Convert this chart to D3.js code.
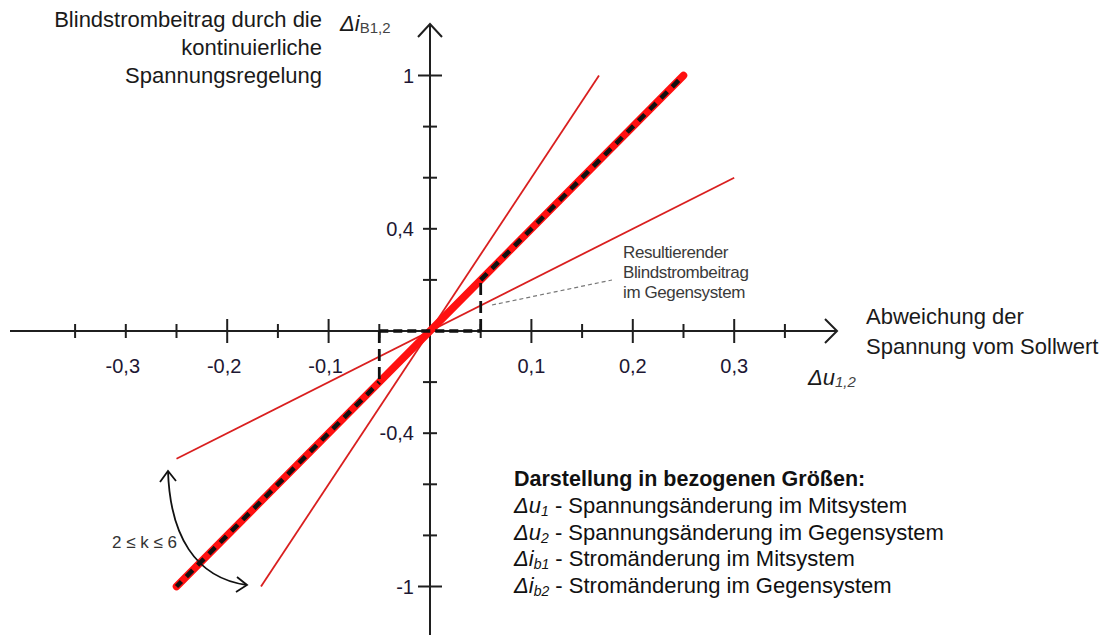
<!DOCTYPE html>
<html>
<head>
<meta charset="utf-8">
<script src="https://cdn.jsdelivr.net/npm/d3@7"></script>
<style>
  html, body { margin: 0; padding: 0; background: #fff; }
  svg { display: block; font-family: "Liberation Sans", Arial, sans-serif; }
</style>
</head>
<body>
<svg id="chart" width="1106" height="635"></svg>
<script>
// Tick positions and labels (German decimal comma)
const xTicks = [-0.35, -0.3, -0.25, -0.2, -0.15, -0.1, -0.05, 0.05, 0.1, 0.15, 0.2, 0.25, 0.3, 0.35];
const xMajor = [-0.2, -0.1, 0.1, 0.2, 0.3];
const xLabels = [-0.3, -0.2, -0.1, 0.1, 0.2, 0.3];
const yTicks = [-1, -0.8, -0.6, -0.4, -0.2, 0.2, 0.4, 0.6, 0.8, 1];
const yMajor = [-1, 1];
const yLabels = [-1, -0.4, 0.4, 1];

// Characteristic lines Δi = k·Δu, given by their end points
const lineK2 = [[-0.25, -0.5], [0.3, 0.6]];
const lineK4 = [[-0.25, -1], [0.25, 1]];
const lineK6 = [[-1 / 6, -1], [1 / 6, 1]];

// Dead band of the negative-sequence contribution and resulting characteristic
const deadband = 0.05;
const resultNeg = [[-0.25, -1], [-0.05, -0.2]];
const resultPos = [[0.05, 0.2], [0.25, 1]];

const legendTitle = "Darstellung in bezogenen Größen:";
const legendItems = [
  { sym: "Δu", sub: "1", text: " - Spannungsänderung im Mitsystem" },
  { sym: "Δu", sub: "2", text: " - Spannungsänderung im Gegensystem" },
  { sym: "Δi", sub: "b1", text: " - Stromänderung im Mitsystem" },
  { sym: "Δi", sub: "b2", text: " - Stromänderung im Gegensystem" }
];

const svg = d3.select("#chart");
const x = d3.scaleLinear().domain([-0.4, 0.4]).range([24.4, 835.6]);
const y = d3.scaleLinear().domain([-1.2, 1.2]).range([637.6, 24.4]);
const fmt = v => d3.format(".1~f")(v).replace(".", ",").replace("\u2212", "-");
const line = d3.line().x(d => x(d[0])).y(d => y(d[1]));

const axisColor = "#1f1f1f";
const labelColor = "#1d1733";

// Axes
const gAxis = svg.append("g").attr("stroke", axisColor).attr("fill", "none");
gAxis.append("line").attr("x1", 10).attr("x2", 837).attr("y1", y(0)).attr("y2", y(0)).attr("stroke-width", 2);
gAxis.append("path").attr("d", `M${837 - 12},${y(0) - 12} L837,${y(0)} L${837 - 12},${y(0) + 12}`).attr("stroke-width", 2);
gAxis.append("line").attr("x1", x(0)).attr("x2", x(0)).attr("y1", 24).attr("y2", 635).attr("stroke-width", 2);
gAxis.append("path").attr("d", `M${x(0) - 12},${24 + 13} L${x(0)},24 L${x(0) + 12},${24 + 13}`).attr("stroke-width", 2);

// Ticks
gAxis.selectAll(".xt").data(xTicks).join("line")
  .attr("x1", d => x(d)).attr("x2", d => x(d))
  .attr("y1", d => y(0) - (xMajor.includes(d) ? 12 : 7))
  .attr("y2", d => y(0) + (xMajor.includes(d) ? 12 : 7))
  .attr("stroke-width", 2);
gAxis.selectAll(".yt").data(yTicks).join("line")
  .attr("y1", d => y(d)).attr("y2", d => y(d))
  .attr("x1", d => x(0) - (yMajor.includes(d) ? 12 : 7))
  .attr("x2", d => x(0) + (yMajor.includes(d) ? 12 : 7))
  .attr("stroke-width", 2);

// Tick labels
svg.selectAll(".xl").data(xLabels).join("text")
  .attr("x", d => x(d) - (d < 0 ? 3 : 0)).attr("y", y(0) + 42)
  .attr("text-anchor", "middle").attr("font-size", 20).attr("fill", labelColor)
  .text(fmt);
svg.selectAll(".yl").data(yLabels).join("text")
  .attr("x", x(0) - 16).attr("y", d => y(d) + 7)
  .attr("text-anchor", "end").attr("font-size", 20).attr("fill", labelColor)
  .text(fmt);

// Characteristic lines
const red = "#d91f1f";
svg.append("path").datum(lineK2).attr("d", line).attr("stroke", red).attr("stroke-width", 1.8).attr("fill", "none");
svg.append("path").datum(lineK6).attr("d", line).attr("stroke", red).attr("stroke-width", 1.8).attr("fill", "none");
svg.append("path").datum(lineK4).attr("d", line).attr("stroke", "#ff1010").attr("stroke-width", 7.5)
  .attr("stroke-linecap", "round").attr("fill", "none");

// Resulting characteristic with dead band (dashed)
const dash = svg.append("g").attr("stroke", "#111").attr("fill", "none").attr("stroke-dasharray", "9,7");
dash.append("path").datum(resultNeg).attr("d", line).attr("stroke-width", 4.5).attr("stroke-dashoffset", 2);
dash.append("path").datum(resultPos).attr("d", line).attr("stroke-width", 4.5);
dash.append("path").datum([[-deadband, 0], [deadband, 0]]).attr("d", line).attr("stroke-width", 3.5).attr("stroke-dasharray", "9,5");
dash.append("path").datum([[-deadband, 0], [-deadband, -0.2]]).attr("d", line).attr("stroke-width", 2.8).attr("stroke-dasharray", "12,6");
dash.append("path").datum([[deadband, 0], [deadband, 0.2]]).attr("d", line).attr("stroke-width", 2.8).attr("stroke-dasharray", "12,6");

// Leader line to the annotation
svg.append("line").attr("x1", 492).attr("y1", 305).attr("x2", 612).attr("y2", 280)
  .attr("stroke", "#777").attr("stroke-width", 1.2).attr("stroke-dasharray", "4,3");
const ann = svg.append("text").attr("font-size", 17).attr("fill", "#3a3a3a").attr("letter-spacing", -0.4);
["Resultierender", "Blindstrombeitrag", "im Gegensystem"].forEach((t, i) => {
  ann.append("tspan").attr("x", 623).attr("y", 258 + i * 20).text(t);
});

// Axis titles
const yt = svg.append("text").attr("font-size", 22).attr("fill", "#1a1a1a").attr("text-anchor", "end");
["Blindstrombeitrag durch die", "kontinuierliche", "Spannungsregelung"].forEach((t, i) => {
  yt.append("tspan").attr("x", 322).attr("y", 27 + i * 28).text(t);
});
const yl = svg.append("text").attr("x", 340).attr("y", 31).attr("font-size", 22).attr("fill", "#1a1a1a").attr("font-style", "italic");
yl.append("tspan").text("Δi");
yl.append("tspan").attr("font-size", 15).attr("dy", 2).attr("font-style", "normal").attr("fill", "#444").text("B1,2");

const xt = svg.append("text").attr("font-size", 22).attr("fill", "#1a1a1a");
["Abweichung der", "Spannung vom Sollwert"].forEach((t, i) => {
  xt.append("tspan").attr("x", 866).attr("y", 324 + i * 30).text(t);
});
const xl = svg.append("text").attr("x", 808).attr("y", 385).attr("font-size", 22).attr("fill", "#1a1a1a").attr("font-style", "italic");
xl.append("tspan").text("Δu");
xl.append("tspan").attr("font-size", 15).attr("dy", 2).attr("fill", "#444").text("1,2");

// Range of k
svg.append("text").attr("x", 112).attr("y", 548).attr("font-size", 17).attr("fill", "#333").text("2 ≤ k ≤ 6");
const arr = svg.append("g").attr("stroke", "#111").attr("fill", "none").attr("stroke-width", 1.8);
arr.append("path").attr("d", "M168,471 C170,535 195,578 247,585");
arr.append("path").attr("d", "M160,482 L168,471 L176,481");
arr.append("path").attr("d", "M237,577 L247,585 L236,592");

// Legend
svg.append("text").attr("x", 514).attr("y", 486).attr("font-size", 21.5).attr("font-weight", "bold")
  .attr("fill", "#111").text(legendTitle);
legendItems.forEach((d, i) => {
  const t = svg.append("text").attr("x", 514).attr("y", 513 + i * 26.5).attr("font-size", 22).attr("fill", "#111");
  t.append("tspan").attr("font-style", "italic").text(d.sym);
  t.append("tspan").attr("font-style", "italic").attr("font-size", 14).attr("dy", 3).text(d.sub);
  t.append("tspan").attr("dy", -3).text(d.text);
});
</script>
</body>
</html>
